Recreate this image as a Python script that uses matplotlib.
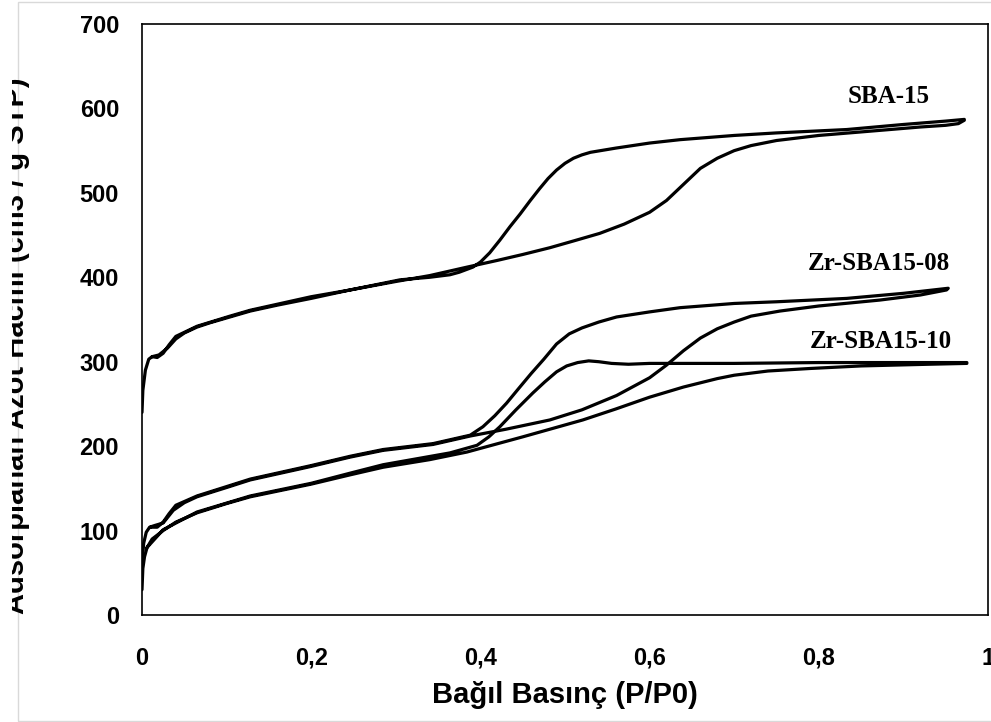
import matplotlib
matplotlib.use("Agg")
import matplotlib.pyplot as plt
from matplotlib.patches import Rectangle
from matplotlib.transforms import Bbox

# N2 adsorption-desorption isotherms (relative pressure vs adsorbed volume)
sba15_ads_p = [0.000, 0.001, 0.004, 0.008, 0.012, 0.020, 0.030, 0.040, 0.050, 0.065,
               0.080, 0.104, 0.128, 0.160, 0.200, 0.246, 0.300, 0.340, 0.384, 0.420,
               0.450, 0.482, 0.510, 0.541, 0.570, 0.600, 0.620, 0.640, 0.660, 0.680,
               0.700, 0.720, 0.750, 0.800, 0.872, 0.920, 0.950, 0.965, 0.972]
sba15_ads_v = [240, 266, 290, 303, 306, 308, 316, 327, 334, 341,
               346, 353, 360, 367, 375, 385, 395, 402, 412, 420,
               427, 435, 443, 452, 463, 477, 491, 510, 529, 541,
               550, 556, 562, 568, 574, 578, 580, 582, 586]
sba15_des_p = [0.972, 0.950, 0.900, 0.833, 0.750, 0.700, 0.636, 0.600, 0.560, 0.530,
               0.520, 0.510, 0.500, 0.490, 0.480, 0.470, 0.459, 0.447, 0.435, 0.423,
               0.411, 0.400, 0.391, 0.375, 0.364, 0.340, 0.305, 0.246, 0.200, 0.128,
               0.104, 0.065, 0.040, 0.032, 0.025, 0.018, 0.012]
sba15_des_v = [587, 585, 581, 575, 571, 568, 563, 559, 553, 548,
               545, 541, 535, 527, 517, 505, 491, 475, 460, 444,
               429, 418, 412, 406, 403, 400, 397, 385, 377, 361,
               354, 342, 330, 320, 310, 305, 306]

zr08_ads_p = [0.000, 0.002, 0.005, 0.009, 0.015, 0.025, 0.037, 0.050, 0.065, 0.100,
              0.128, 0.200, 0.246, 0.285, 0.344, 0.388, 0.430, 0.482, 0.520, 0.561,
              0.600, 0.620, 0.640, 0.660, 0.680, 0.700, 0.720, 0.754, 0.800, 0.872,
              0.920, 0.951]
zr08_ads_v = [60, 85, 98, 104, 106, 109, 124, 133, 140, 151,
              160, 176, 187, 195, 202, 212, 220, 231, 243, 260,
              281, 296, 313, 328, 339, 347, 354, 360, 366, 373,
              379, 385]
zr08_des_p = [0.953, 0.900, 0.833, 0.750, 0.700, 0.636, 0.600, 0.561, 0.540, 0.520,
              0.505, 0.490, 0.475, 0.460, 0.445, 0.431, 0.417, 0.403, 0.388, 0.344,
              0.285, 0.246, 0.200, 0.128, 0.065, 0.040, 0.032, 0.025, 0.018, 0.010]
zr08_des_v = [387, 381, 375, 371, 369, 364, 359, 353, 347, 340,
              333, 321, 303, 286, 268, 251, 236, 223, 213, 203,
              196, 188, 177, 161, 141, 130, 120, 110, 104, 104]

zr10_ads_p = [0.000, 0.001, 0.003, 0.006, 0.012, 0.025, 0.040, 0.065, 0.100, 0.128,
              0.200, 0.246, 0.285, 0.340, 0.384, 0.450, 0.521, 0.560, 0.600, 0.640,
              0.680, 0.700, 0.740, 0.790, 0.850, 0.930, 0.975]
zr10_ads_v = [30, 55, 69, 80, 90, 100, 110, 121, 132, 140,
              155, 166, 175, 184, 193, 211, 231, 244, 258, 270,
              280, 284, 289, 292, 295, 297, 298]
zr10_des_p = [0.975, 0.900, 0.800, 0.700, 0.600, 0.575, 0.555, 0.540, 0.528, 0.515,
              0.502, 0.490, 0.476, 0.462, 0.442, 0.423, 0.410, 0.396, 0.364, 0.285,
              0.246, 0.200, 0.128, 0.065, 0.025, 0.006]
zr10_des_v = [299, 299, 299, 298, 298, 297, 298, 300, 301, 299,
              295, 288, 276, 263, 243, 223, 211, 201, 192, 178,
              168, 156, 141, 122, 101, 80]

series_names = ["SBA-15", "Zr-SBA15-08", "Zr-SBA15-10"]
name_pos_p = [0.883, 0.871, 0.8735]
name_pos_v = [606, 408.5, 316]

x_ticks = [0, 0.2, 0.4, 0.6, 0.8, 1.0]
x_tick_labels = ["0", "0,2", "0,4", "0,6", "0,8", "1"]
y_ticks = [0, 100, 200, 300, 400, 500, 600, 700]
y_tick_labels = ["0", "100", "200", "300", "400", "500", "600", "700"]
x_title = "Bağıl Basınç (P/P0)"
y_title = "Adsorplanan Azot Hacmi (cm3 / g STP)"

W, H = 991, 722
fig = plt.figure(figsize=(W / 100, H / 100), dpi=100)
fig.patch.set_facecolor("white")

# light chart-area border
fig.patches.append(Rectangle((18 / W, 1 / H), 1.0, 719 / H, transform=fig.transFigure,
                             fill=False, edgecolor="#d9d9d9", linewidth=1.0))

ax = fig.add_axes([142 / W, 1 - 615 / H, (988 - 142) / W, (615 - 24) / H])
ax.set_xlim(0, 1)
ax.set_ylim(0, 700)

line_kw = dict(color="black", linewidth=2.3, solid_joinstyle="round", solid_capstyle="round")
for p, v in [(sba15_ads_p + sba15_des_p, sba15_ads_v + sba15_des_v),
             (zr08_ads_p + zr08_des_p, zr08_ads_v + zr08_des_v),
             (zr10_ads_p + zr10_des_p, zr10_ads_v + zr10_des_v)]:
    ax.plot(p, v, **line_kw)

for name, px, pv in zip(series_names, name_pos_p, name_pos_v):
    ax.text(px, pv, name, ha="center", va="baseline", family="Liberation Serif",
            fontweight="bold", fontsize=18)

ax.set_xticks(x_ticks)
ax.set_xticklabels(x_tick_labels)
ax.set_yticks(y_ticks)
ax.set_yticklabels(y_tick_labels)
ax.tick_params(length=0)
ax.tick_params(axis="y", pad=16.5)
ax.tick_params(axis="x", pad=23)
for lbl in ax.get_xticklabels() + ax.get_yticklabels():
    lbl.set_family("Liberation Sans")
    lbl.set_fontweight("bold")
    lbl.set_fontsize(17)

for s in ax.spines.values():
    s.set_color("black")
    s.set_linewidth(1.2)

fig.text(565 / W, 1 - 695 / H, x_title, ha="center", va="center",
         family="Liberation Sans", fontweight="bold", fontsize=21)

yt = fig.text(24 / W, 1 - 346 / H, y_title, ha="center", va="baseline", rotation=90,
              rotation_mode="anchor", family="Liberation Sans", fontweight="bold", fontsize=21)
yt.set_clip_box(Bbox([[12, 0], [W, H]]))
yt.set_clip_on(True)

fig.savefig("out.png", dpi=100)
